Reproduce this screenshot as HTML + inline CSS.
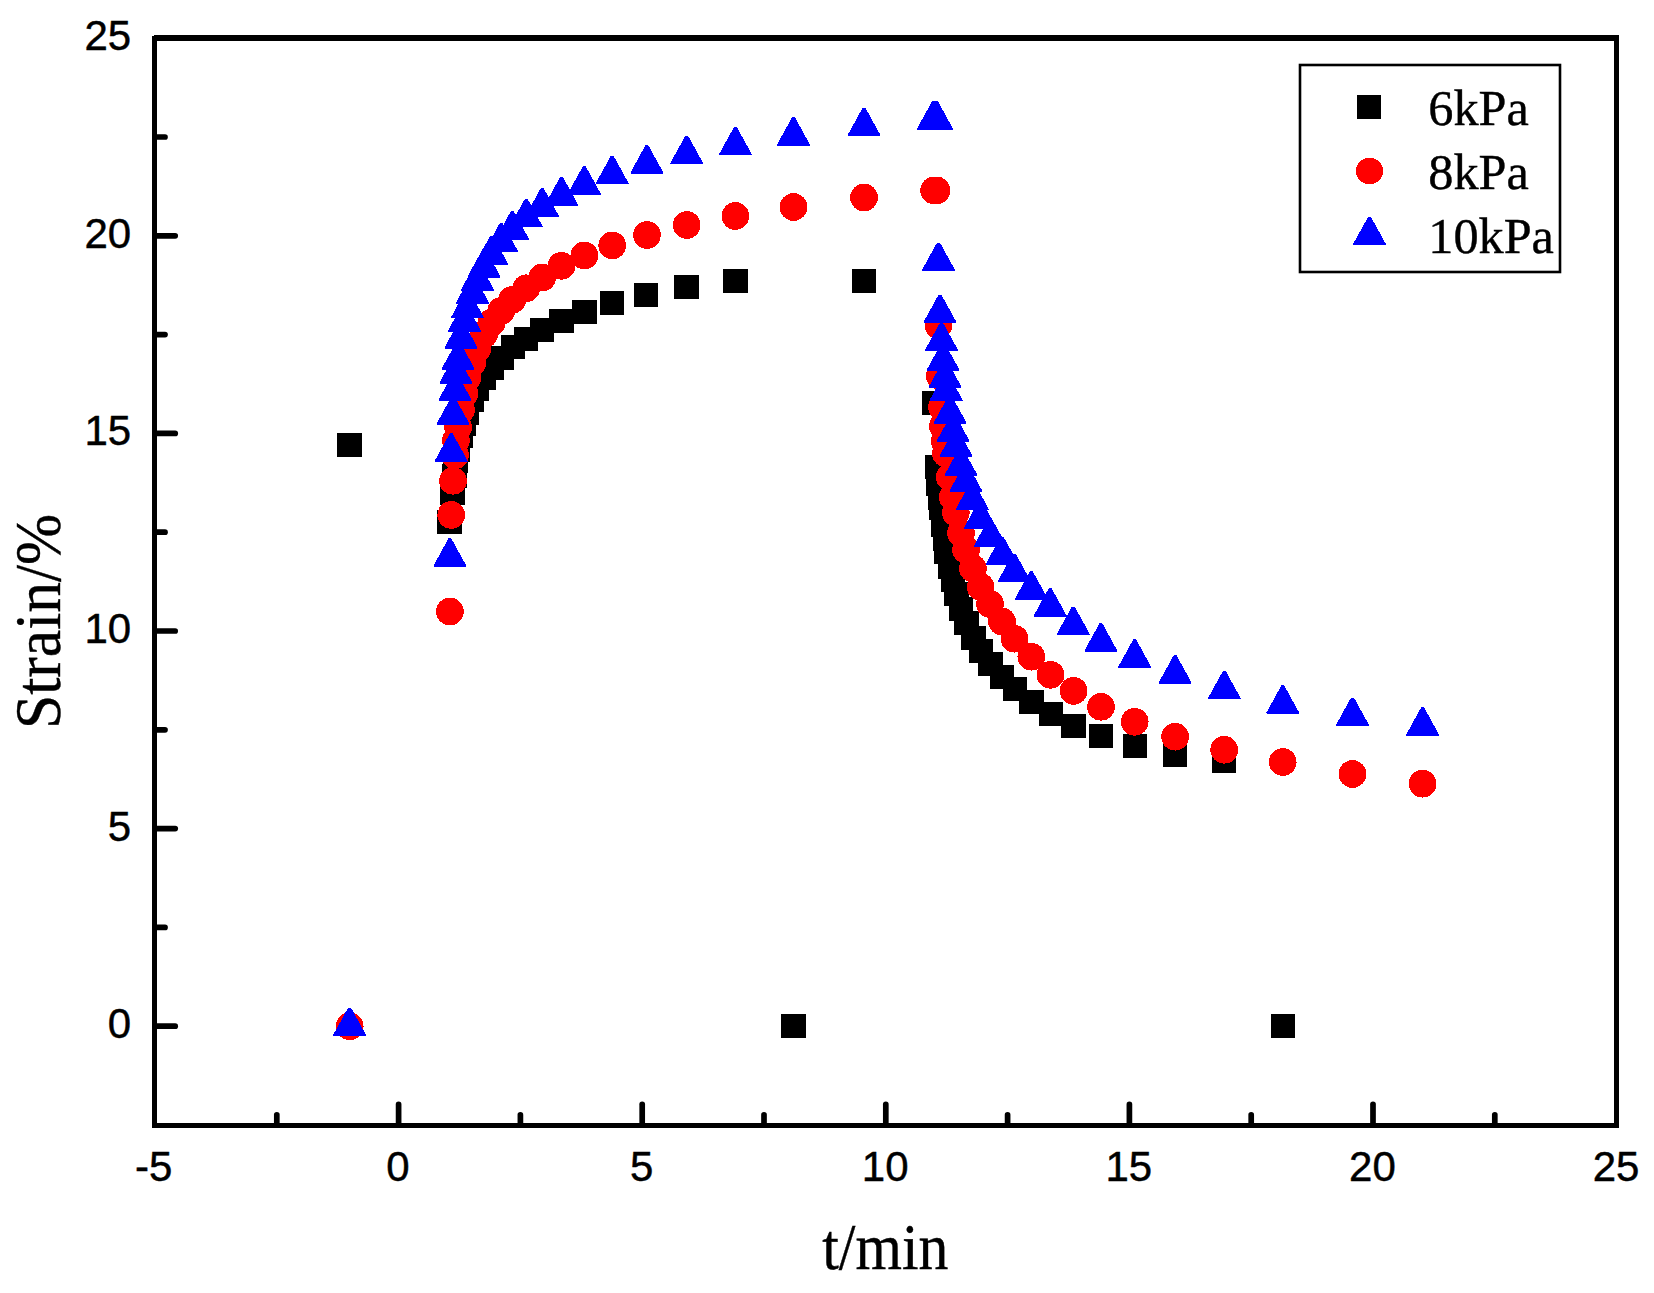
<!DOCTYPE html>
<html lang="en"><head><meta charset="utf-8"><title>Strain vs t</title>
<style>html,body{margin:0;padding:0;background:#fff}svg{display:block}.tk{font-family:"Liberation Sans",Arial,sans-serif;font-size:42px;fill:#000;stroke:#000;stroke-width:.45px}.ti{font-family:"Liberation Serif","Times New Roman",serif;fill:#000;stroke:#000;stroke-width:.4px}</style></head><body>
<svg width="1654" height="1293" viewBox="0 0 1654 1293">
<rect width="1654" height="1293" fill="#fff"/>
<g fill="#000" shape-rendering="crispEdges">
<rect x="152" y="35.5" width="5" height="1092.5"/>
<rect x="153.5" y="35" width="1465.5" height="6"/>
<rect x="1614" y="35" width="5" height="1093"/>
<rect x="152" y="1123" width="1467" height="5"/>
</g>
<g stroke="#000" stroke-width="5.7" stroke-linecap="round" fill="none">
<path d="M157 1026.2H175.2"/>
<path d="M157 828.6H175.2"/>
<path d="M157 631.0H175.2"/>
<path d="M157 433.4H175.2"/>
<path d="M157 235.8H175.2"/>
<path d="M157 927.4H165"/>
<path d="M157 729.8H165"/>
<path d="M157 532.2H165"/>
<path d="M157 334.6H165"/>
<path d="M157 137.0H165"/>
<path d="M398.6 1123V1104.4"/>
<path d="M642.2 1123V1104.4"/>
<path d="M885.8 1123V1104.4"/>
<path d="M1129.4 1123V1104.4"/>
<path d="M1373.0 1123V1104.4"/>
<path d="M276.8 1123V1114.8"/>
<path d="M520.4 1123V1114.8"/>
<path d="M764.0 1123V1114.8"/>
<path d="M1007.6 1123V1114.8"/>
<path d="M1251.2 1123V1114.8"/>
<path d="M1494.8 1123V1114.8"/>
</g>
<g class="tk" text-anchor="end">
<text x="131.2" y="1038.2">0</text>
<text x="131.2" y="840.6">5</text>
<text x="131.2" y="643.0">10</text>
<text x="131.2" y="445.4">15</text>
<text x="131.2" y="247.8">20</text>
<text x="131.2" y="50.2">25</text>
</g>
<g class="tk" text-anchor="middle">
<text x="153.8" y="1180.6">-5</text>
<text x="398.0" y="1180.6">0</text>
<text x="641.6" y="1180.6">5</text>
<text x="885.2" y="1180.6">10</text>
<text x="1128.8" y="1180.6">15</text>
<text x="1372.4" y="1180.6">20</text>
<text x="1616.0" y="1180.6">25</text>
</g>
<text class="ti" font-size="66" text-anchor="middle" transform="translate(885.3 1269.2) scale(0.905 1)">t/min</text>
<text class="ti" font-size="66" text-anchor="middle" transform="translate(60.3 621.3) rotate(-90) scale(0.932 1)">Strain/%</text>
<g fill="#000" shape-rendering="crispEdges"><rect x="337.2" y="433.0" width="24.6" height="24.0"/><rect x="437.2" y="509.6" width="24.6" height="24.0"/><rect x="440.3" y="481.3" width="24.6" height="24.0"/><rect x="442.2" y="463.5" width="24.6" height="24.0"/><rect x="443.4" y="448.8" width="24.6" height="24.0"/><rect x="445.3" y="437.5" width="24.6" height="24.0"/><rect x="448.4" y="423.5" width="24.6" height="24.0"/><rect x="451.2" y="412.4" width="24.6" height="24.0"/><rect x="454.3" y="400.7" width="24.6" height="24.0"/><rect x="459.2" y="388.4" width="24.6" height="24.0"/><rect x="464.4" y="376.5" width="24.6" height="24.0"/><rect x="471.3" y="365.5" width="24.6" height="24.0"/><rect x="479.3" y="355.5" width="24.6" height="24.0"/><rect x="489.4" y="345.5" width="24.6" height="24.0"/><rect x="500.6" y="335.4" width="24.6" height="24.0"/><rect x="513.5" y="326.7" width="24.6" height="24.0"/><rect x="529.5" y="317.5" width="24.6" height="24.0"/><rect x="549.2" y="309.1" width="24.6" height="24.0"/><rect x="571.9" y="299.9" width="24.6" height="24.0"/><rect x="599.8" y="291.0" width="24.6" height="24.0"/><rect x="633.7" y="283.0" width="24.6" height="24.0"/><rect x="674.2" y="275.0" width="24.6" height="24.0"/><rect x="723.2" y="269.0" width="24.6" height="24.0"/><rect x="781.3" y="1013.9" width="24.6" height="24.0"/><rect x="851.7" y="269.0" width="24.6" height="24.0"/><rect x="921.7" y="391.0" width="24.6" height="24.0"/><rect x="924.8" y="454.7" width="24.6" height="24.0"/><rect x="925.7" y="471.7" width="24.6" height="24.0"/><rect x="927.9" y="485.6" width="24.6" height="24.0"/><rect x="928.8" y="495.7" width="24.6" height="24.0"/><rect x="931.0" y="512.7" width="24.6" height="24.0"/><rect x="932.7" y="527.4" width="24.6" height="24.0"/><rect x="934.0" y="539.8" width="24.6" height="24.0"/><rect x="937.9" y="554.8" width="24.6" height="24.0"/><rect x="940.7" y="567.6" width="24.6" height="24.0"/><rect x="943.9" y="581.7" width="24.6" height="24.0"/><rect x="948.8" y="596.7" width="24.6" height="24.0"/><rect x="953.9" y="610.9" width="24.6" height="24.0"/><rect x="960.9" y="625.9" width="24.6" height="24.0"/><rect x="968.8" y="638.7" width="24.6" height="24.0"/><rect x="977.9" y="651.8" width="24.6" height="24.0"/><rect x="989.7" y="664.7" width="24.6" height="24.0"/><rect x="1002.7" y="676.7" width="24.6" height="24.0"/><rect x="1018.9" y="689.7" width="24.6" height="24.0"/><rect x="1038.7" y="701.8" width="24.6" height="24.0"/><rect x="1060.9" y="714.0" width="24.6" height="24.0"/><rect x="1088.6" y="723.9" width="24.6" height="24.0"/><rect x="1122.7" y="734.0" width="24.6" height="24.0"/><rect x="1162.8" y="742.5" width="24.6" height="24.0"/><rect x="1211.8" y="749.4" width="24.6" height="24.0"/><rect x="1270.5" y="1013.9" width="24.6" height="24.0"/></g>
<g fill="#f00" shape-rendering="crispEdges"><circle cx="349.7" cy="1026.3" r="13.85"/><circle cx="449.9" cy="611.5" r="13.85"/><circle cx="451.2" cy="514.9" r="13.85"/><circle cx="453.0" cy="480.8" r="13.85"/><circle cx="455.0" cy="455.4" r="13.85"/><circle cx="455.9" cy="440.6" r="13.85"/><circle cx="458.1" cy="427.4" r="13.85"/><circle cx="461.0" cy="409.6" r="13.85"/><circle cx="464.5" cy="393.3" r="13.85"/><circle cx="467.4" cy="377.5" r="13.85"/><circle cx="472.5" cy="362.5" r="13.85"/><circle cx="477.5" cy="348.5" r="13.85"/><circle cx="484.0" cy="334.5" r="13.85"/><circle cx="491.5" cy="322.8" r="13.85"/><circle cx="501.2" cy="311.0" r="13.85"/><circle cx="512.3" cy="299.7" r="13.85"/><circle cx="526.2" cy="288.3" r="13.85"/><circle cx="542.2" cy="277.5" r="13.85"/><circle cx="561.5" cy="265.8" r="13.85"/><circle cx="584.3" cy="255.5" r="13.85"/><circle cx="612.2" cy="245.4" r="13.85"/><circle cx="646.9" cy="235.0" r="13.85"/><circle cx="686.7" cy="225.0" r="13.85"/><circle cx="735.4" cy="216.0" r="13.85"/><circle cx="793.5" cy="207.0" r="13.85"/><circle cx="864.0" cy="197.5" r="13.85"/><circle cx="934.1" cy="190.4" r="13.85"/><circle cx="936.4" cy="190.4" r="13.85"/><circle cx="938.4" cy="325.2" r="13.85"/><circle cx="939.8" cy="376.0" r="13.85"/><circle cx="941.9" cy="407.0" r="13.85"/><circle cx="942.9" cy="426.3" r="13.85"/><circle cx="944.7" cy="441.0" r="13.85"/><circle cx="945.9" cy="453.4" r="13.85"/><circle cx="949.7" cy="477.1" r="13.85"/><circle cx="952.8" cy="497.2" r="13.85"/><circle cx="955.8" cy="512.7" r="13.85"/><circle cx="961.0" cy="532.8" r="13.85"/><circle cx="966.1" cy="549.8" r="13.85"/><circle cx="972.9" cy="568.4" r="13.85"/><circle cx="980.6" cy="587.0" r="13.85"/><circle cx="990.0" cy="604.0" r="13.85"/><circle cx="1002.0" cy="621.5" r="13.85"/><circle cx="1014.5" cy="638.7" r="13.85"/><circle cx="1031.3" cy="656.7" r="13.85"/><circle cx="1050.5" cy="674.8" r="13.85"/><circle cx="1073.6" cy="690.9" r="13.85"/><circle cx="1101.0" cy="706.8" r="13.85"/><circle cx="1134.7" cy="721.8" r="13.85"/><circle cx="1175.1" cy="736.7" r="13.85"/><circle cx="1224.2" cy="749.8" r="13.85"/><circle cx="1282.7" cy="762.0" r="13.85"/><circle cx="1352.5" cy="774.0" r="13.85"/><circle cx="1422.6" cy="783.7" r="13.85"/></g>
<g fill="#00f" shape-rendering="crispEdges"><path d="M348.2 1007.6h2.8L365.9 1034.7v1.3H333.3v-1.3Z"/><path d="M448.5 538.4h2.8L466.2 565.5v1.3H433.6v-1.3Z"/><path d="M449.8 433.4h2.8L467.5 460.5v1.3H434.9v-1.3Z"/><path d="M451.6 396.4h2.8L469.3 423.5v1.3H436.7v-1.3Z"/><path d="M453.6 372.3h2.8L471.3 399.4v1.3H438.7v-1.3Z"/><path d="M454.5 355.2h2.8L472.2 382.3v1.3H439.6v-1.3Z"/><path d="M456.7 341.3h2.8L474.4 368.4v1.3H441.8v-1.3Z"/><path d="M459.6 320.1h2.8L477.3 347.2v1.3H444.7v-1.3Z"/><path d="M463.1 303.1h2.8L480.8 330.2v1.3H448.2v-1.3Z"/><path d="M466.0 290.0h2.8L483.7 317.1v1.3H451.1v-1.3Z"/><path d="M471.1 275.1h2.8L488.8 302.2v1.3H456.2v-1.3Z"/><path d="M476.1 262.1h2.8L493.8 289.2v1.3H461.2v-1.3Z"/><path d="M482.6 249.1h2.8L500.3 276.2v1.3H467.7v-1.3Z"/><path d="M490.1 236.1h2.8L507.8 263.2v1.3H475.2v-1.3Z"/><path d="M499.8 223.1h2.8L517.5 250.2v1.3H484.9v-1.3Z"/><path d="M510.9 211.1h2.8L528.6 238.2v1.3H496.0v-1.3Z"/><path d="M524.8 199.0h2.8L542.5 226.1v1.3H509.9v-1.3Z"/><path d="M540.8 188.1h2.8L558.5 215.2v1.3H525.9v-1.3Z"/><path d="M560.1 177.1h2.8L577.8 204.2v1.3H545.2v-1.3Z"/><path d="M582.9 166.2h2.8L600.6 193.3v1.3H568.0v-1.3Z"/><path d="M610.8 155.9h2.8L628.5 183.0v1.3H595.9v-1.3Z"/><path d="M645.5 145.2h2.8L663.2 172.3v1.3H630.6v-1.3Z"/><path d="M685.3 135.8h2.8L703.0 162.9v1.3H670.4v-1.3Z"/><path d="M734.0 127.0h2.8L751.7 154.1v1.3H719.1v-1.3Z"/><path d="M792.1 117.2h2.8L809.8 144.3v1.3H777.2v-1.3Z"/><path d="M862.6 107.8h2.8L880.3 134.9v1.3H847.7v-1.3Z"/><path d="M932.0 101.4h2.8L949.7 128.5v1.3H917.1v-1.3Z"/><path d="M935.2 101.4h2.8L952.9 128.5v1.3H920.3v-1.3Z"/><path d="M937.1 242.5h2.8L954.8 269.6v1.3H922.2v-1.3Z"/><path d="M938.6 294.7h2.8L956.3 321.8v1.3H923.7v-1.3Z"/><path d="M940.1 322.5h2.8L957.8 349.6v1.3H925.2v-1.3Z"/><path d="M941.7 342.6h2.8L959.4 369.7v1.3H926.8v-1.3Z"/><path d="M943.7 359.6h2.8L961.4 386.7v1.3H928.8v-1.3Z"/><path d="M944.8 372.5h2.8L962.5 399.6v1.3H929.9v-1.3Z"/><path d="M948.7 395.4h2.8L966.4 422.5v1.3H933.8v-1.3Z"/><path d="M951.7 413.5h2.8L969.4 440.6v1.3H936.8v-1.3Z"/><path d="M954.6 428.4h2.8L972.3 455.5v1.3H939.7v-1.3Z"/><path d="M959.6 447.6h2.8L977.3 474.7v1.3H944.7v-1.3Z"/><path d="M964.5 463.5h2.8L982.2 490.6v1.3H949.6v-1.3Z"/><path d="M970.9 481.6h2.8L988.6 508.7v1.3H956.0v-1.3Z"/><path d="M978.9 500.7h2.8L996.6 527.8v1.3H964.0v-1.3Z"/><path d="M988.9 518.4h2.8L1006.6 545.5v1.3H974.0v-1.3Z"/><path d="M1000.7 536.7h2.8L1018.4 563.8v1.3H985.8v-1.3Z"/><path d="M1012.9 553.7h2.8L1030.6 580.8v1.3H998.0v-1.3Z"/><path d="M1030.0 571.4h2.8L1047.7 598.5v1.3H1015.1v-1.3Z"/><path d="M1048.8 588.2h2.8L1066.5 615.3v1.3H1033.9v-1.3Z"/><path d="M1071.9 606.6h2.8L1089.6 633.7v1.3H1057.0v-1.3Z"/><path d="M1099.5 623.3h2.8L1117.2 650.4v1.3H1084.6v-1.3Z"/><path d="M1133.3 639.4h2.8L1151.0 666.5v1.3H1118.4v-1.3Z"/><path d="M1173.7 655.3h2.8L1191.4 682.4v1.3H1158.8v-1.3Z"/><path d="M1222.9 671.0h2.8L1240.6 698.1v1.3H1208.0v-1.3Z"/><path d="M1281.4 685.4h2.8L1299.1 712.5v1.3H1266.5v-1.3Z"/><path d="M1351.1 697.5h2.8L1368.8 724.6v1.3H1336.2v-1.3Z"/><path d="M1421.2 707.3h2.8L1438.9 734.4v1.3H1406.3v-1.3Z"/></g>
<rect x="1300" y="65" width="260" height="207" fill="#fff" stroke="#000" stroke-width="2.6"/>
<g shape-rendering="crispEdges"><g fill="#000"><rect x="1357" y="95" width="24.3" height="24"/></g><g fill="#f00"><ellipse cx="1369.5" cy="171" rx="13.6" ry="13.2"/></g><g fill="#00f"><path d="M1368.1 216.8h2.8L1385.8 243.9v1.3H1353.2v-1.3Z"/></g></g>
<text class="ti" font-size="51.3" transform="translate(1428.3 124.9) scale(0.98 1)">6kPa</text>
<text class="ti" font-size="51.3" transform="translate(1428.3 188.9) scale(0.98 1)">8kPa</text>
<text class="ti" font-size="51.3" transform="translate(1428.3 253.2) scale(0.98 1)">10kPa</text>
</svg></body></html>
